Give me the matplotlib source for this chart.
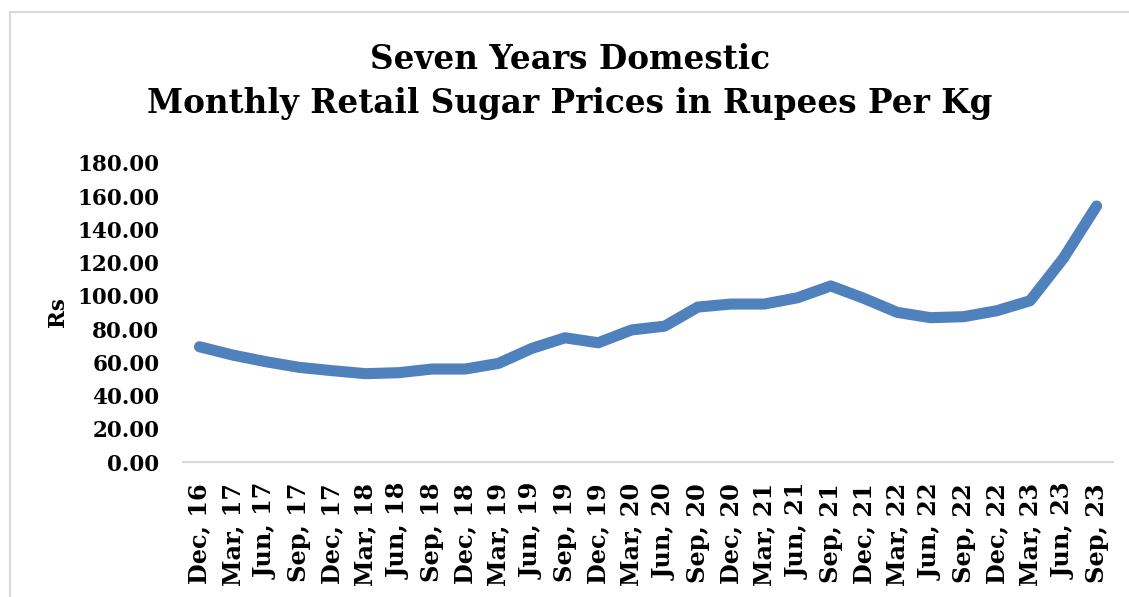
import matplotlib
matplotlib.use('Agg')
import matplotlib.pyplot as plt
from matplotlib.patches import Rectangle

# quarterly retail sugar price, Rs per kg
quarters = ['Dec, 16', 'Mar, 17', 'Jun, 17', 'Sep, 17', 'Dec, 17', 'Mar, 18', 'Jun, 18',
            'Sep, 18', 'Dec, 18', 'Mar, 19', 'Jun, 19', 'Sep, 19', 'Dec, 19', 'Mar, 20',
            'Jun, 20', 'Sep, 20', 'Dec, 20', 'Mar, 21', 'Jun, 21', 'Sep, 21', 'Dec, 21',
            'Mar, 22', 'Jun, 22', 'Sep, 22', 'Dec, 22', 'Mar, 23', 'Jun, 23', 'Sep, 23']
prices = [69.4, 64.4, 60.4, 57.0, 55.0, 53.2, 53.8, 56.0, 56.0, 59.4, 68.4, 74.8, 71.8, 79.5,
          81.8, 93.3, 95.1, 95.1, 98.9, 106.0, 98.5, 90.1, 86.9, 87.5, 91.1, 97.1, 122.6, 154.1]
yticks = [0, 20, 40, 60, 80, 100, 120, 140, 160, 180]

font = ['DejaVu Serif', 'Liberation Serif', 'serif']

fig = plt.figure(figsize=(11.29, 5.97), dpi=100)
ax = fig.add_axes([0.162, 0.226, 0.824, 0.501])

x = list(range(len(quarters)))
ax.plot(x, prices, color='#4F81BD', linewidth=8, solid_capstyle='round', solid_joinstyle='round')

ax.set_xlim(-0.5, len(quarters) - 0.5)
ax.set_ylim(0, 180)
ax.set_yticks(yticks)
ax.set_yticklabels(['%.2f' % v for v in yticks], fontfamily=font, fontweight='bold', fontsize=15.5)
ax.set_xticks(x)
ax.set_xticklabels(quarters, rotation=90, fontfamily=font, fontweight='bold', fontsize=17.3)
ax.tick_params(axis='y', length=0, pad=17)
ax.tick_params(axis='x', length=0, pad=15)

for s in ['top', 'right', 'left']:
    ax.spines[s].set_visible(False)
ax.spines['bottom'].set_color('#D9D9D9')
ax.spines['bottom'].set_linewidth(1.5)

ax.set_ylabel('Rs', fontfamily=font, fontweight='bold', fontsize=15.5, labelpad=6)

fig.text(0.505, 0.864, 'Seven Years Domestic\nMonthly Retail Sugar Prices in Rupees Per Kg',
         ha='center', va='center', fontfamily=font, fontweight='bold', fontsize=23.5,
         linespacing=1.42)

# light outer chart border
fig.patches.append(Rectangle((10 / 1129, -0.01), 1.02, 1 - 12 / 597 + 0.01,
                             transform=fig.transFigure, fill=False,
                             edgecolor='#D9D9D9', linewidth=1.5))

fig.savefig('out.png', dpi=100)
